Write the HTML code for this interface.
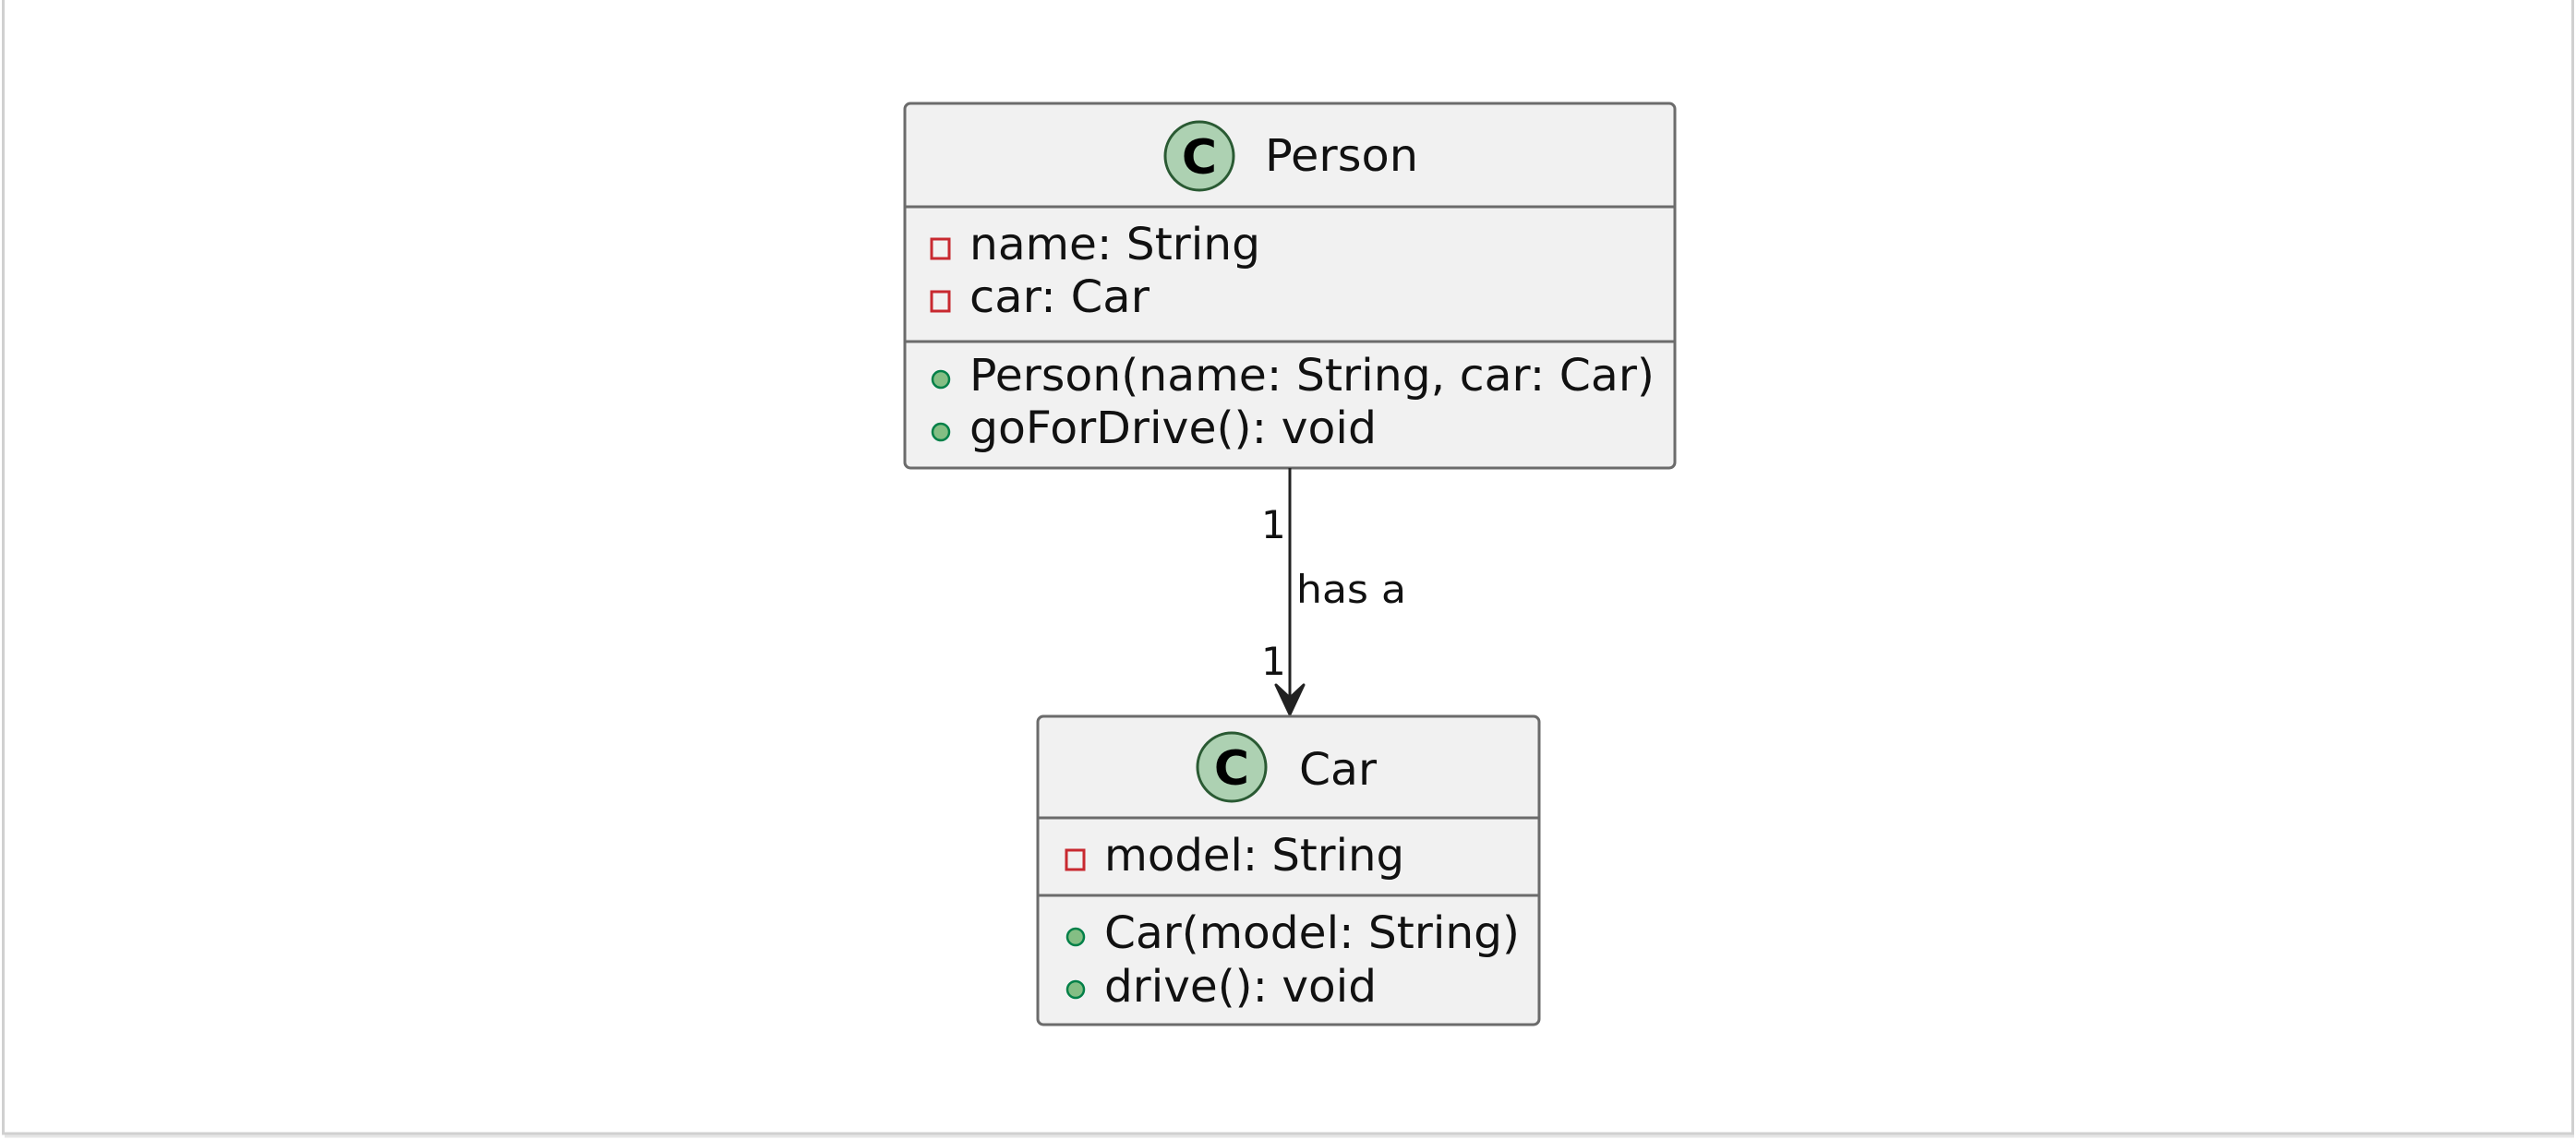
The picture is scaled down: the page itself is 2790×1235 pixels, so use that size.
<!DOCTYPE html>
<html><head><meta charset="utf-8"><style>
html,body{margin:0;padding:0;background:#fff;}
svg{display:block;}
text{font-family:"DejaVu Sans","Liberation Sans",sans-serif;fill:#111;}
</style></head><body>
<svg width="2790" height="1235" viewBox="0 0 2790 1235" xmlns="http://www.w3.org/2000/svg">
<rect x="0" y="0" width="2790" height="1235" fill="#fff"/>
<rect x="3.5" y="-2" width="2783" height="1230" fill="#fff" stroke="#d0d0d0" stroke-width="3"/>
<line x1="5" y1="1231" x2="2788" y2="1231" stroke="#e6e6e6" stroke-width="3"/>

<!-- Person -->
<rect x="980" y="112" width="834" height="395" rx="6" fill="#F1F1F1" stroke="#6b6b6b" stroke-width="3"/>
<line x1="980" y1="224" x2="1814" y2="224" stroke="#6b6b6b" stroke-width="3"/>
<line x1="980" y1="370" x2="1814" y2="370" stroke="#6b6b6b" stroke-width="3"/>
<circle cx="1299" cy="169" r="37" fill="#ADD1B2" stroke="#2a5a33" stroke-width="3"/>
<text x="1299" y="188" font-size="52" font-weight="bold" text-anchor="middle" style="fill:#000">C</text>
<text x="1370" y="185" font-size="48" textLength="166" lengthAdjust="spacingAndGlyphs">Person</text>
<rect x="1009" y="259" width="19" height="21" fill="none" stroke="#C82930" stroke-width="3"/>
<text x="1050" y="281" font-size="48" textLength="315" lengthAdjust="spacingAndGlyphs">name: String</text>
<rect x="1009" y="316" width="19" height="21" fill="none" stroke="#C82930" stroke-width="3"/>
<text x="1050" y="338" font-size="48" textLength="195" lengthAdjust="spacingAndGlyphs">car: Car</text>
<circle cx="1019" cy="411" r="9" fill="#84BE84" stroke="#038048" stroke-width="2.5"/>
<text x="1050" y="423" font-size="48" textLength="742" lengthAdjust="spacingAndGlyphs">Person(name: String, car: Car)</text>
<circle cx="1019" cy="468" r="9" fill="#84BE84" stroke="#038048" stroke-width="2.5"/>
<text x="1050" y="480" font-size="48" textLength="441" lengthAdjust="spacingAndGlyphs">goForDrive(): void</text>

<!-- connector -->
<line x1="1397" y1="507" x2="1397" y2="772" stroke="#222" stroke-width="3"/>
<path d="M1397 774 L1382 742 L1397 756 L1412 742 Z" fill="#222" stroke="#222" stroke-width="3" stroke-linejoin="round"/>
<text x="1366" y="583" font-size="42">1</text>
<text x="1404" y="653" font-size="42" textLength="119" lengthAdjust="spacingAndGlyphs">has a</text>
<text x="1366" y="731" font-size="42">1</text>

<!-- Car -->
<rect x="1124" y="776" width="543" height="334" rx="6" fill="#F1F1F1" stroke="#6b6b6b" stroke-width="3"/>
<line x1="1124" y1="886" x2="1667" y2="886" stroke="#6b6b6b" stroke-width="3"/>
<line x1="1124" y1="970" x2="1667" y2="970" stroke="#6b6b6b" stroke-width="3"/>
<circle cx="1334" cy="831" r="37" fill="#ADD1B2" stroke="#2a5a33" stroke-width="3"/>
<text x="1334" y="850" font-size="52" font-weight="bold" text-anchor="middle" style="fill:#000">C</text>
<text x="1407" y="850" font-size="48" textLength="84" lengthAdjust="spacingAndGlyphs">Car</text>
<rect x="1155" y="921" width="19" height="21" fill="none" stroke="#C82930" stroke-width="3"/>
<text x="1196" y="943" font-size="48" textLength="325" lengthAdjust="spacingAndGlyphs">model: String</text>
<circle cx="1165" cy="1015" r="9" fill="#84BE84" stroke="#038048" stroke-width="2.5"/>
<text x="1196" y="1027" font-size="48" textLength="450" lengthAdjust="spacingAndGlyphs">Car(model: String)</text>
<circle cx="1165" cy="1072" r="9" fill="#84BE84" stroke="#038048" stroke-width="2.5"/>
<text x="1196" y="1085" font-size="48" textLength="295" lengthAdjust="spacingAndGlyphs">drive(): void</text>
</svg>
</body></html>
